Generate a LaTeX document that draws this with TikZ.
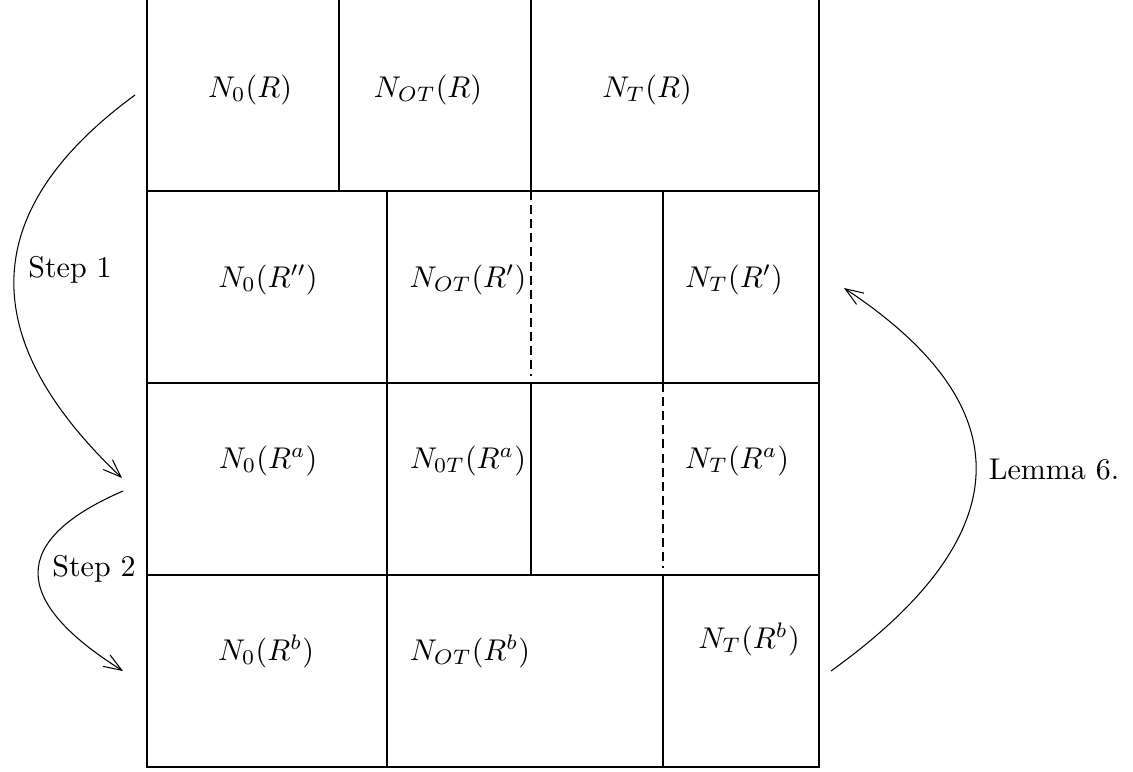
\documentclass[tikz,border=0pt]{standalone}
\usetikzlibrary{arrows.meta}
\begin{document}
\begin{tikzpicture}[x=0.33333pt,y=-0.33333pt,
  gridline/.style={line width=0.35pt},
  dashline/.style={line width=0.35pt, dash pattern=on 3pt off 1.7pt},
  lbl/.style={anchor=base, inner sep=0pt},
  curvearrow/.style={line width=0.35pt, -{Straight Barb[length=6pt,width=4.5pt]}}]

\useasboundingbox (0,0) rectangle (1133,771);

% outer frame (open at top)
\draw[gridline] (147,0) -- (147,767) -- (819,767) -- (819,0);
% horizontal separators
\draw[gridline] (147,191) -- (819,191);
\draw[gridline] (147,383) -- (819,383);
\draw[gridline] (147,575) -- (819,575);
% row 1 verticals
\draw[gridline] (339,0) -- (339,191);
\draw[gridline] (531,0) -- (531,191);
% row 2 verticals
\draw[gridline] (387,191) -- (387,383);
\draw[dashline] (531,191) -- (531,376);
\draw[gridline] (663,191) -- (663,383);
% row 3 verticals
\draw[gridline] (387,383) -- (387,575);
\draw[gridline] (531,383) -- (531,575);
\draw[dashline] (663,383) -- (663,568);
% row 4 verticals
\draw[gridline] (387,575) -- (387,767);
\draw[gridline] (663,575) -- (663,767);

% labels
\node[lbl] (n1a) at (250,97) {$N_0(R)$};
\node[lbl] (n1b) at (428,97) {$N_{OT}(R)$};
\node[lbl] (n1c) at (647,97) {$N_T(R)$};

\node[lbl] (n2a) at (268,287) {$N_0(R'')$};
\node[lbl] (n2b) at (468,287) {$N_{OT}(R')$};
\node[lbl] (n2c) at (734,287) {$N_T(R')$};

\node[lbl] (n3a) at (268,468) {$N_0(R^a)$};
\node[lbl] (n3b) at (468,468) {$N_{0T}(R^a)$};
\node[lbl] (n3c) at (737,468) {$N_T(R^a)$};

\node[lbl] (n4a) at (266,660) {$N_0(R^b)$};
\node[lbl] (n4b) at (470,660) {$N_{OT}(R^b)$};
\node[lbl] (n4c) at (749,648) {$N_T(R^b)$};

\node[lbl] (step1) at (70,277) {Step 1};
\node[lbl] (step2) at (94,576) {Step 2};
\node[lbl] (lemma) at (1054,479) {Lemma 6.};

% arrow end points
\coordinate (s1start) at (135,95);
\coordinate (s1end) at (122,478);
\coordinate (s2start) at (123,491);
\coordinate (s2end) at (123,671);
\coordinate (lstart) at (831,671);
\coordinate (lend) at (844,288);

\draw[curvearrow] (s1start) .. controls (-22,210) and (-26,338) .. (s1end);
\draw[curvearrow] (s2start) .. controls (10,540) and (10,600) .. (s2end);
\draw[curvearrow] (lstart) .. controls (1020,535) and (1024,407) .. (lend);
\end{tikzpicture}
\end{document}
